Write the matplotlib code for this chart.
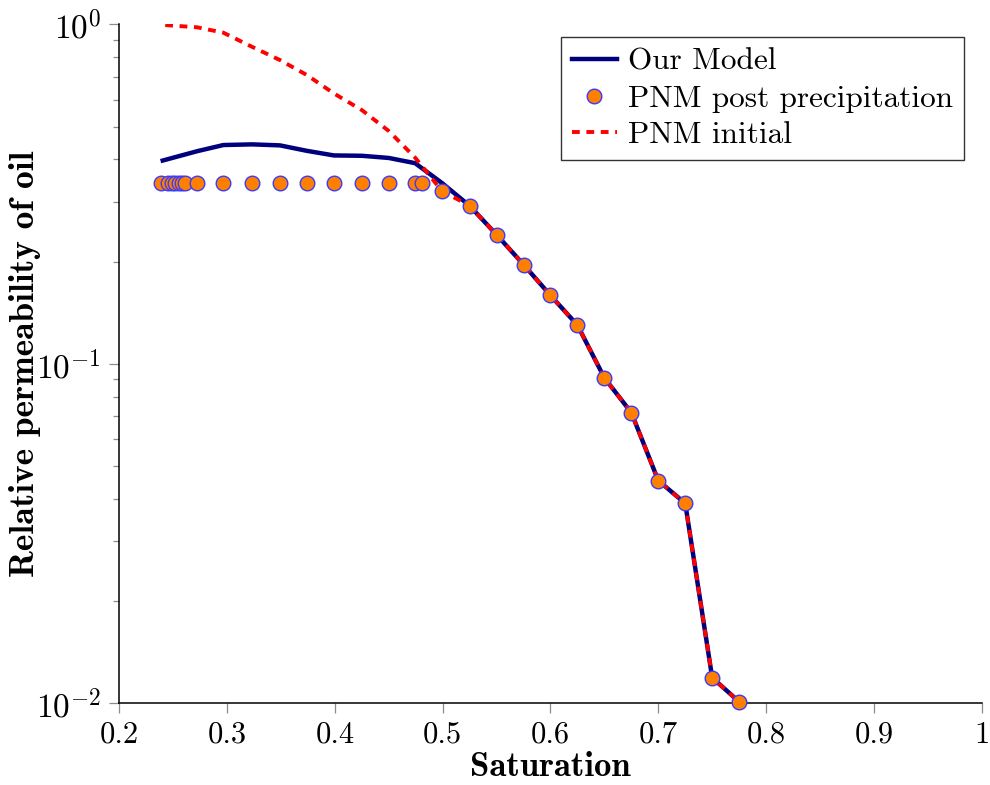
import numpy as np
import matplotlib
matplotlib.use("Agg")
import matplotlib.pyplot as plt
from matplotlib.ticker import FixedLocator, LogLocator, NullFormatter, FuncFormatter

plt.rcParams["mathtext.fontset"] = "cm"
plt.rcParams["font.family"] = "cmr10"
plt.rcParams["axes.unicode_minus"] = False

# PNM post precipitation (markers)
sat_pnm = [0.239, 0.2455, 0.249, 0.252, 0.255, 0.258, 0.261, 0.2723, 0.2965,
           0.323, 0.349, 0.374, 0.399, 0.425, 0.450, 0.4744, 0.4807, 0.4993,
           0.525, 0.55, 0.575, 0.60, 0.625, 0.65, 0.675, 0.70, 0.725, 0.75, 0.775]
kr_pnm = [0.342, 0.342, 0.342, 0.342, 0.342, 0.342, 0.342, 0.342, 0.342,
          0.342, 0.342, 0.342, 0.342, 0.342, 0.342, 0.342, 0.342, 0.323,
          0.292, 0.240, 0.196, 0.159, 0.130, 0.0909, 0.0718, 0.0453, 0.0388,
          0.0119, 0.0101]

# Our Model
sat_model = [0.2403, 0.2723, 0.2965, 0.323, 0.349, 0.374, 0.399, 0.425, 0.450,
             0.4744, 0.4993, 0.525, 0.55, 0.575, 0.60, 0.625, 0.65, 0.675,
             0.70, 0.725, 0.75, 0.775]
kr_model = [0.397, 0.423, 0.441, 0.443, 0.440, 0.424, 0.411, 0.410, 0.404,
            0.390, 0.341, 0.292, 0.240, 0.196, 0.159, 0.130, 0.0909, 0.0718,
            0.0453, 0.0388, 0.0119, 0.0101]

# PNM initial
sat_init = [0.2426, 0.2723, 0.2965, 0.323, 0.349, 0.374, 0.399, 0.425, 0.450,
            0.4744, 0.4993, 0.525, 0.55, 0.575, 0.60, 0.625, 0.65, 0.675,
            0.70, 0.725, 0.75, 0.775]
kr_init = [0.995, 0.980, 0.945, 0.859, 0.785, 0.709, 0.626, 0.559, 0.485,
           0.405, 0.323, 0.292, 0.240, 0.196, 0.159, 0.130, 0.0909, 0.0718,
           0.0453, 0.0388, 0.0119, 0.0101]

xticks = [0.2, 0.3, 0.4, 0.5, 0.6, 0.7, 0.8, 0.9, 1.0]
xticklabels = ["0.2", "0.3", "0.4", "0.5", "0.6", "0.7", "0.8", "0.9", "1"]

fig = plt.figure(figsize=(9.9, 7.85), dpi=100)
ax = fig.add_axes([0.1205, 0.1041, 0.8711, 0.8649])

ax.plot(sat_model, kr_model, color="#00007f", lw=3.2, label="Our Model", zorder=2)
ax.plot(sat_pnm, kr_pnm, ls="none", marker="o", ms=10.5, mfc="#ff8000",
        mec="#3a3aff", mew=1.0, label="PNM post precipitation", zorder=4,
        clip_on=False)
ax.plot(sat_init, kr_init, color="#ff0000", lw=2.8, ls=(0, (2.0, 1.7)),
        label="PNM initial", zorder=3)

ax.set_yscale("log")
ax.set_xlim(0.2, 1.0)
ax.set_ylim(1e-2, 1e0)

ax.spines["top"].set_visible(False)
ax.spines["right"].set_visible(False)
for s in ("left", "bottom"):
    ax.spines[s].set_linewidth(1.1)

ax.xaxis.set_major_locator(FixedLocator(xticks))
ax.set_xticklabels(xticklabels, fontname="cmr10", fontsize=22)
ax.yaxis.set_major_locator(LogLocator(base=10, numticks=5))
ax.yaxis.set_major_formatter(FuncFormatter(
    lambda v, p: r"$10^{%d}$" % int(round(np.log10(v)))))
ax.yaxis.set_minor_locator(LogLocator(base=10, subs=np.arange(2, 10), numticks=20))
ax.yaxis.set_minor_formatter(NullFormatter())
ax.tick_params(axis="both", which="major", direction="out", length=7,
               width=0.9, color="#8c8c8c", pad=6)
ax.tick_params(axis="y", which="major", labelsize=24)
ax.tick_params(axis="both", which="minor", direction="out", length=4,
               width=0.9, color="#8c8c8c")

ax.set_xlabel("Saturation", fontname="cmb10", fontsize=25)
ax.set_ylabel("Relative permeability of oil", fontname="cmb10", fontsize=25.5)
ax.xaxis.set_label_coords(0.5, -0.072)
ax.yaxis.set_label_coords(-0.091, 0.5)

leg = ax.legend(loc="upper right", bbox_to_anchor=(964 / 990, 1 - 37 / 785),
                bbox_transform=fig.transFigure, borderaxespad=0,
                prop={"family": "cmr10", "size": 22.5}, fancybox=False,
                edgecolor="#333333", framealpha=1, handlelength=1.45,
                handletextpad=0.35, labelspacing=0.28, borderpad=0.35)
leg.get_frame().set_linewidth(1.0)

fig.savefig("out.png", dpi=100)
